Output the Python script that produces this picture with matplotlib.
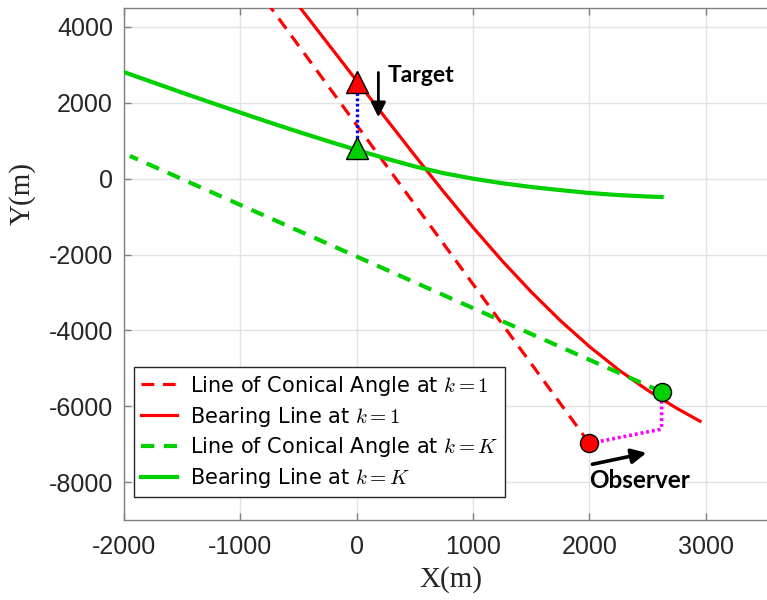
import matplotlib
matplotlib.use("Agg")
import matplotlib.pyplot as plt

# ---------------- data ----------------
bearing_k1_x = [-520, -250, 0, 250, 500, 750, 1000, 1250, 1500, 1750, 2000, 2250, 2500, 2750, 2950]
bearing_k1_y = [4640, 3570, 2580, 1590, 607, -358, -1288, -2168, -2988, -3743, -4428, -5040, -5580, -6055, -6395]

conical_k1_x = [2000, -760]
conical_k1_y = [-6980, 4600]

conical_kK_x = [2620, -1950]
conical_kK_y = [-5620, 600]

bearing_kK_x = [-2000, -1750, -1500, -1250, -1000, -750, -500, -250, 0, 250, 500, 750,
                1000, 1250, 1500, 1750, 2000, 2250, 2500, 2620]
bearing_kK_y = [2810, 2538, 2268, 2003, 1742, 1484, 1234, 992, 757, 532, 322, 142,
                0, -120, -220, -302, -378, -433, -470, -484]

target_x = [0, 0]          # k = 1, k = K
target_y = [2550, 810]
observer_x = [2000, 2620]  # k = 1, k = K
observer_y = [-6980, -5620]

observer_path_x = [2000, 2560, 2600, 2620, 2620]
observer_path_y = [-6980, -6640, -6615, -6570, -5620]

x_ticks = [-2000, -1000, 0, 1000, 2000, 3000]
y_ticks = [-8000, -6000, -4000, -2000, 0, 2000, 4000]

labels = [r"Line of Conical Angle at $k=1$",
          r"Bearing Line at $k=1$",
          r"Line of Conical Angle at $k=K$",
          r"Bearing Line at $k=K$"]

RED = "#ff0000"
GREEN = "#00d000"

plt.rcParams["mathtext.fontset"] = "cm"
plt.rcParams["font.family"] = ["Liberation Sans", "DejaVu Sans"]

fig = plt.figure(figsize=(7.67, 6.0), dpi=100)
ax = fig.add_axes([124 / 767, 80 / 600, 654 / 767, 512 / 600])

# lines
l1, = ax.plot(conical_k1_x, conical_k1_y, color=RED, lw=2.3, dashes=(4, 2.7), label=labels[0], zorder=3)
l2, = ax.plot(bearing_k1_x, bearing_k1_y, color=RED, lw=2.3, label=labels[1], zorder=3)
l3, = ax.plot(conical_kK_x, conical_kK_y, color=GREEN, lw=3.0, dashes=(3.2, 2.3), label=labels[2], zorder=3)
l4, = ax.plot(bearing_kK_x, bearing_kK_y, color=GREEN, lw=3.0, label=labels[3], zorder=3)

# dotted connection paths
ax.plot(target_x, target_y, color="#0000ff", lw=2.4, dashes=(0.8, 0.8), zorder=4)
ax.plot(observer_path_x, observer_path_y, color="#ff00ff", lw=2.6, dashes=(0.8, 0.8), zorder=4)

# markers
ax.plot(target_x[0], target_y[0], marker="^", ms=16, mfc=RED, mec="black", mew=1.0, ls="none", zorder=6)
ax.plot(target_x[1], target_y[1], marker="^", ms=16, mfc=GREEN, mec="black", mew=1.0, ls="none", zorder=6)
ax.plot(observer_x[0], observer_y[0], marker="o", ms=13, mfc=RED, mec="black", mew=1.0, ls="none", zorder=6)
ax.plot(observer_x[1], observer_y[1], marker="o", ms=13, mfc=GREEN, mec="black", mew=1.0, ls="none", zorder=6)

# annotations
ax.annotate("", xy=(186, 1620), xytext=(186, 2800),
            arrowprops=dict(arrowstyle="-|>", color="black", lw=2.0, mutation_scale=22, shrinkA=0, shrinkB=0),
            zorder=7)
ax.text(268, 2720, "Target", fontsize=16.5, fontweight="bold", family="Lato", ha="left", va="center", zorder=7)
ax.annotate("", xy=(2490, -7230), xytext=(2025, -7530),
            arrowprops=dict(arrowstyle="-|>", color="black", lw=2.6, mutation_scale=22, shrinkA=0, shrinkB=0),
            zorder=7)
ax.text(2000, -7950, "Observer", fontsize=17.5, fontweight="bold", family="Lato", ha="left", va="center", zorder=7)

# axes styling
ax.set_xlim(-2000, 3620)
ax.set_ylim(-9000, 4500)
ax.set_xticks(x_ticks)
ax.set_yticks(y_ticks)
ax.set_xticklabels([str(v) for v in x_ticks])
ax.set_yticklabels([str(v) for v in y_ticks])
ax.grid(True, color="#e3e3e3", lw=1.0, zorder=0)
ax.set_axisbelow(True)
for side in ["left", "bottom", "top", "right"]:
    ax.spines[side].set_color("#808080")
    ax.spines[side].set_linewidth(1.0)
ax.tick_params(axis="both", direction="in", length=5, width=1.0, color="#808080",
               labelsize=18, labelcolor="#262626", top=True, right=True)
ax.tick_params(axis="x", pad=11)
ax.tick_params(axis="y", pad=8)

fig.text(451 / 767, 1 - 580 / 600, "X(m)", family="Liberation Serif", fontsize=21,
         color="#262626", ha="center", va="center")
fig.text(22 / 767, 1 - 194 / 600, "Y(m)", family="Liberation Serif", fontsize=21,
         color="#262626", ha="center", va="center", rotation=90)

leg = ax.legend(handles=[l1, l2, l3, l4], loc="lower left", bbox_to_anchor=(10 / 654, 23 / 512),
                borderaxespad=0, prop={"family": "DejaVu Sans", "size": 15}, frameon=True,
                fancybox=False, framealpha=1, edgecolor="#262626", handlelength=1.75,
                handletextpad=0.6, labelspacing=0.33, borderpad=0.32)
leg.get_frame().set_linewidth(1.0)
for t in leg.get_texts():
    t.set_color("#000000")

fig.savefig("out.png", dpi=100)
